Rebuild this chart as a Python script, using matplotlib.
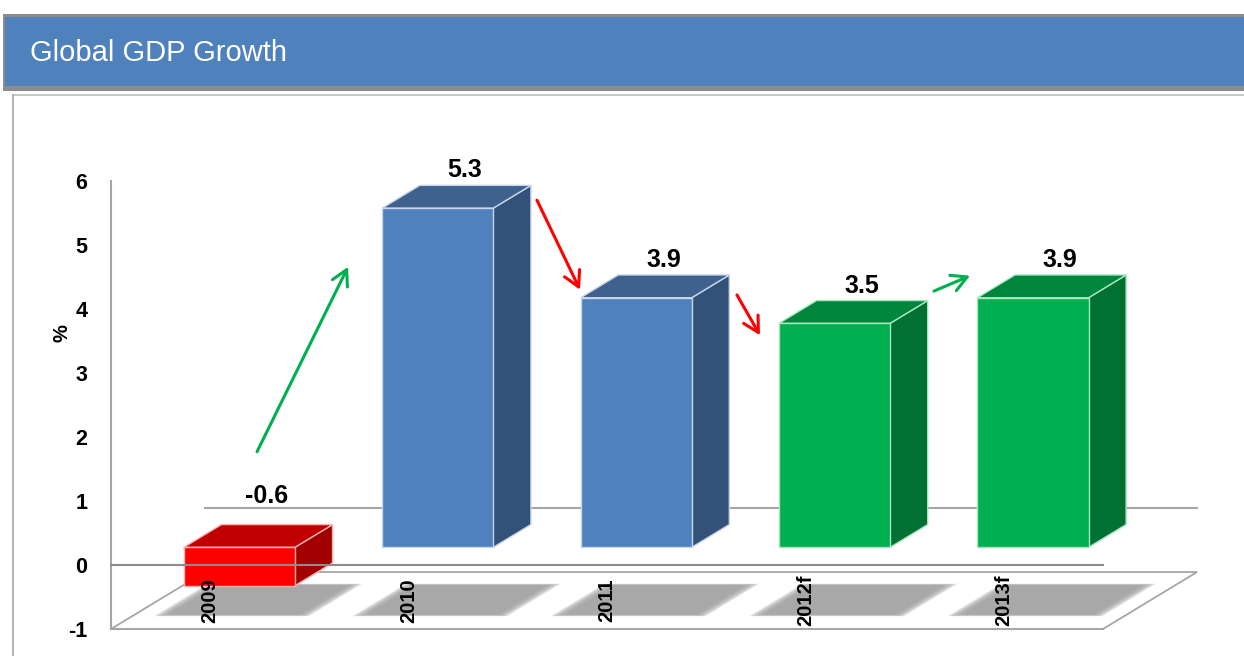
import matplotlib.pyplot as plt
from matplotlib.patches import Polygon, Rectangle

plt.rcParams['font.family'] = ['Liberation Sans', 'DejaVu Sans']

# data
categories = ['2009', '2010', '2011', '2012f', '2013f']
growth = [-0.6, 5.3, 3.9, 3.5, 3.9]
bar_kind = ['neg', 'actual', 'actual', 'forecast', 'forecast']
y_ticks = [-1, 0, 1, 2, 3, 4, 5, 6]

# trend arrows: (tail x, tail y, head x, head y, kind) in chart units
arrows = [
    (0.236, 1.77, 0.695, 4.66, 'up'),
    (1.647, 5.70, 1.864, 4.30, 'down'),
    (2.655, 4.22, 2.771, 3.59, 'down'),
    (3.648, 4.28, 3.830, 4.52, 'up'),
]

# colours per bar type: front, top, side, edge
palette = {
    'neg':      ('#FF0000', '#C00000', '#A00000', '#FFB3B3'),
    'actual':   ('#4F81BD', '#3E618E', '#32527A', '#C9D6EA'),
    'forecast': ('#00B050', '#00853D', '#007133', '#A8E6C0'),
}
arrow_col = {'up': '#00B050', 'down': '#FF0000'}

# fake 3d: depth shift (full depth) in data units
DX, DY = 0.474, 0.89
D0, D1 = 0.31, 0.71      # bar front / back depth
W = 0.56                 # bar width
AX_COL = '#A6A6A6'


def P(x, y, d):
    return (x + DX * d, y + DY * d)


fig = plt.figure(figsize=(12.44, 6.56), dpi=100)

# slide decoration (pixel coords)
bg = fig.add_axes([0, 0, 1, 1])
bg.set_xlim(0, 1244)
bg.set_ylim(656, 0)
bg.axis('off')
bg.add_patch(Rectangle((3, 14), 1241, 77, facecolor='#8C8C8C', edgecolor='none'))
bg.add_patch(Rectangle((5, 17), 1239, 69, facecolor='#4F81BD', edgecolor='none'))
bg.plot([13, 1244], [95, 95], color='#BFBFBF', lw=1.2)
bg.plot([13, 13], [95, 656], color='#A6A6A6', lw=1.2)
bg.text(30, 53, 'Global GDP Growth', color='white', fontsize=21,
        ha='left', va='center')

# chart
ax = fig.add_axes([111 / 1244, 27 / 656, 992 / 1244, 448 / 656])
ax.patch.set_visible(False)
ax.set_xlim(-0.5, len(categories) - 0.5)
ax.set_ylim(y_ticks[0], y_ticks[-1])
for s in ['top', 'right']:
    ax.spines[s].set_visible(False)
for s in ['left', 'bottom']:
    ax.spines[s].set_color(AX_COL)
    ax.spines[s].set_linewidth(1.5)
    ax.spines[s].set_zorder(3)
ax.set_xticks([])
ax.set_yticks(y_ticks)
ax.set_yticklabels([str(t) for t in y_ticks], fontsize=15.5, fontweight='bold')
ax.tick_params(axis='y', length=0, pad=17)
ax.text(-0.0494, 0.661, '%', transform=ax.transAxes, rotation=90,
        ha='center', va='center', fontsize=14.5, fontweight='bold')

xmin, xmax = -0.5, len(categories) - 0.5
ymin = y_ticks[0]

# floor
floor = [P(xmin, ymin, 0), P(xmax, ymin, 0), P(xmax, ymin, 1), P(xmin, ymin, 1)]
ax.add_patch(Polygon(floor, closed=True, facecolor='white', edgecolor=AX_COL,
                     lw=1.3, zorder=1, clip_on=False))
# zero plane, back edge
bx, by = zip(P(xmin, 0, 1), P(xmax, 0, 1))
ax.plot(bx, by, color=AX_COL, lw=1.5, zorder=2, clip_on=False)

# soft shadows on the floor
n_layers = 7
for i in range(len(categories)):
    for k in range(n_layers):
        e = 0.07 * (n_layers - k) / n_layers
        hw = 0.32 + e
        da, db = 0.26 - e * 0.5, 0.76 + e * 0.5
        pts = [P(i - hw, ymin, da), P(i + hw, ymin, da),
               P(i + hw, ymin, db), P(i - hw, ymin, db)]
        ax.add_patch(Polygon(pts, closed=True, facecolor='#A0A0A0',
                             edgecolor='none', alpha=0.28, zorder=3,
                             clip_on=False))

# bars
for i, (v, kind) in enumerate(zip(growth, bar_kind)):
    front, top, side, edge = palette[kind]
    lo, hi = min(0, v), max(0, v)
    xl, xr = i - W / 2, i + W / 2
    f = [P(xl, lo, D0), P(xr, lo, D0), P(xr, hi, D0), P(xl, hi, D0)]
    t = [P(xl, hi, D0), P(xr, hi, D0), P(xr, hi, D1), P(xl, hi, D1)]
    s = [P(xr, lo, D0), P(xr, hi, D0), P(xr, hi, D1), P(xr, lo, D1)]
    for pts, c in [(s, side), (t, top), (f, front)]:
        ax.add_patch(Polygon(pts, closed=True, facecolor=c, edgecolor=edge,
                             lw=1, zorder=5, clip_on=False))
    off = 3 if v >= 0 else 17
    ax.annotate(f'{v:.1f}', xy=(i + DX * 0.6, hi + DY * D1),
                xytext=(0, off), textcoords='offset pixels',
                ha='center', va='bottom', fontsize=18, fontweight='bold',
                zorder=8, annotation_clip=False)
    ax.text(i, -0.55, categories[i], rotation=90, ha='center', va='center',
            fontsize=14.5, fontweight='bold', zorder=12, clip_on=False)

# zero plane, front edge (over the bars)
fx, fy = zip(P(xmin, 0, 0), P(xmax, 0, 0))
ax.plot(fx, fy, color='#8C8C8C', lw=1.5, zorder=10, clip_on=False)

# trend arrows
for x0, y0, x1, y1, kind in arrows:
    ax.annotate('', xy=(x1, y1), xytext=(x0, y0),
                arrowprops=dict(arrowstyle='->,head_length=0.55,head_width=0.3',
                                color=arrow_col[kind], lw=2.2,
                                mutation_scale=20, shrinkA=0, shrinkB=0),
                annotation_clip=False, zorder=9)

fig.savefig('out.png', dpi=100)
